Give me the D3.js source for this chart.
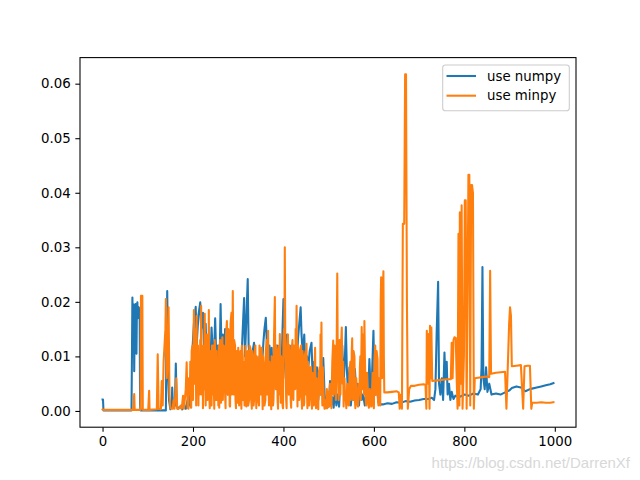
<!DOCTYPE html>
<html><head><meta charset="utf-8">
<script src="https://cdn.jsdelivr.net/npm/d3@7"></script>
<style>body{margin:0;background:#fff}svg{display:block}</style>
</head><body><svg id="c" width="640" height="480"></svg>
<script>
const xTicks=[0,200,400,600,800,1000];
const yTicks=[0,0.01,0.02,0.03,0.04,0.05,0.06];
const seriesNames=["use numpy","use minpy"];
const seriesColors=["#1f77b4","#ff7f0e"];
const watermark="https://blog.csdn.net/DarrenXf";

const numpyData=[
[0,0.0021],[1,0.0021],[2,0.0001],[30,0.0001],[64,0.0001],[65,0.0100],[66,0.0208],[67,0.0150],[68,0.0120],[69,0.0195],[70,0.0073],[71,0.0150],[72,0.0190],[73,0.0196],[74,0.0140],[75,0.0105],[76,0.0190],[77,0.0199],[78,0.0170],[79,0.0185],[80,0.0190],[82,0.0185],[83,0.0010],[84,0.0001],
[140,0.0001],[141,0.0100],[143,0.0220],[144,0.0150],[145,0.0060],[147,0.0020],[150,0.0003],[153,0.0010],[154,0.0043],[156,0.0005],[160,0.0010],[162,0.0087],[164,0.0010],[167,0.0004],[172,0.0008],[176,0.0003],[180,0.0010],[184,0.0004],[188,0.0020],[191,0.0010],[193,0.0043],[195,0.0007],
[198,0.0100],[202,0.0160],[206,0.0191],[208,0.0120],[212,0.0175],[216,0.0199],[218,0.0150],[222,0.0180],[225,0.0100],[228,0.0160],[231,0.0060],[234,0.0140],[237,0.0040],[241,0.0153],[243,0.0120],[246,0.0090],[249,0.0170],[252,0.0080],[255,0.0120],[258,0.0050],[261,0.0196],[263,0.0110],[266,0.0140],[268,0.0060],[271,0.0150],[274,0.0090],[277,0.0030],[280,0.0110],[283,0.0070],[286,0.0120],[289,0.0130],[292,0.0040],[295,0.0100],[298,0.0060],[301,0.0105],[304,0.0030],[307,0.0090],[310,0.0150],[313,0.0207],[315,0.0100],[318,0.0170],[321,0.0242],[323,0.0120],[326,0.0090],[329,0.0050],[332,0.0110],[335,0.0125],[338,0.0040],[341,0.0080],[344,0.0030],[347,0.0100],[350,0.0060],[353,0.0090],[356,0.0130],[358,0.0150],[361,0.0171],[363,0.0130],[366,0.0080],[369,0.0120],[372,0.0050],[374,0.0116],[377,0.0030],[380,0.0090],[383,0.0060],[386,0.0120],[389,0.0030],[392,0.0100],[395,0.0050],[398,0.0150],[400,0.0205],[402,0.0110],[405,0.0060],[408,0.0140],[411,0.0080],[414,0.0120],[417,0.0040],[420,0.0100],[423,0.0060],[426,0.0110],[429,0.0080],[432,0.0130],[435,0.0160],[438,0.0190],[440,0.0140],[443,0.0100],[446,0.0140],[449,0.0060],[452,0.0100],[455,0.0080],[458,0.0110],[462,0.0125],[465,0.0050],[468,0.0090],[471,0.0040],[474,0.0080],[477,0.0020],[480,0.0060],[483,0.0030],[486,0.0080],[488,0.0097],[491,0.0030],
[494,0.0010],[497,0.0030],[500,0.0008],[503,0.0055],[505,0.0010],[508,0.0025],[511,0.0006],[514,0.0040],[517,0.0010],[520,0.0030],[523,0.0008],[526,0.0060],[530,0.0120],[533,0.0050],[536,0.0100],[538,0.0154],[540,0.0080],[543,0.0030],[546,0.0080],[549,0.0010],[552,0.0040],[555,0.0020],[558,0.0077],[561,0.0030],[564,0.0050],[567,0.0010],[570,0.0050],[573,0.0020],[576,0.0030],[580,0.0010],[584,0.0040],[587,0.0015],[590,0.0095],[593,0.0030],[596,0.0070],[599,0.0147],[601,0.0060],[604,0.0030],[607,0.0040],[610,0.0015],[614,0.0012],[620,0.0012],
[630,0.0014],[640,0.0013],[650,0.0016],[660,0.0015],[670,0.0018],[680,0.0017],[690,0.0019],[700,0.0020],[710,0.0022],[720,0.0022],[728,0.0024],[733,0.0020],[736,0.0040],[739,0.0150],[742,0.0237],[744,0.0050],[747,0.0030],[750,0.0060],[753,0.0020],[756,0.0107],[758,0.0060],[761,0.0090],[763,0.0030],[766,0.0050],[769,0.0020],[772,0.0035],[776,0.0022],[780,0.0028],[790,0.0026],[800,0.0030],[810,0.0028],[820,0.0032],[830,0.0030],[836,0.0040],[838,0.0080],[840,0.0264],[842,0.0060],[845,0.0040],[848,0.0080],[851,0.0035],[855,0.0050],[860,0.0030],[870,0.0032],[880,0.0030],[890,0.0034],[900,0.0038],[905,0.0042],[915,0.0045],[925,0.0043],[935,0.0036],[945,0.0040],[960,0.0043],[970,0.0045],[980,0.0047],[990,0.0049],[997,0.0051]
];

const minpyData=[
[0,0.0003],[2,0.0002],[30,0.0002],[60,0.0002],[68,0.0002],[70,0.0031],[71,0.0002],[84,0.0002],[85,0.0211],[88,0.0211],[89,0.0002],[101,0.0002],[103,0.0037],[104,0.0002],[120,0.0003],[122,0.0104],[124,0.0004],[129,0.0003],[131,0.0055],[133,0.0010],[135,0.0090],[137,0.0120],[139,0.0150],[140,0.0205],[142,0.0060],[144,0.0100],[146,0.0190],[148,0.0030],[150,0.0005],[155,0.0004],[157,0.0020],[159,0.0004],[161,0.0030],[163,0.0060],[165,0.0004],[170,0.0005],[173,0.0010],[175,0.0004],[178,0.0028],[180,0.0004],[184,0.0040],[186,0.0089],[188,0.0006],
[190,0.0004],[191,0.0060],[193,0.0030],[194,0.0090],[196,0.0006],[197,0.0110],[199,0.0120],[200,0.0020],[202,0.0185],[203,0.0050],[205,0.0140],[206,0.0150],[207,0.0010],[208,0.0174],[209,0.0040],[211,0.0120],[212,0.0010],[213,0.0100],[215,0.0030],[216,0.0130],[217,0.0060],[218,0.0193],[219,0.0030],[221,0.0110],[222,0.0005],[223,0.0120],[224,0.0040],[226,0.0178],[227,0.0060],[228,0.0010],[229,0.0140],[231,0.0090],[232,0.0020],[233,0.0140],[234,0.0060],[235,0.0185],[236,0.0030],[237,0.0005],[238,0.0110],[240,0.0080],[241,0.0010],[242,0.0120],[243,0.0030],[245,0.0120],[246,0.0050],[247,0.0004],[248,0.0130],[250,0.0100],[251,0.0020],[252,0.0110],[253,0.0020],[255,0.0090],[256,0.0010],[257,0.0120],[258,0.0006],[260,0.0130],[261,0.0040],[262,0.0015],[263,0.0110],[265,0.0135],[266,0.0020],[267,0.0060],[268,0.0120],[270,0.0100],[271,0.0030],[272,0.0005],[273,0.0140],[275,0.0165],[276,0.0040],[277,0.0030],[278,0.0150],[280,0.0140],[281,0.0010],[282,0.0008],[283,0.0160],[285,0.0180],[286,0.0030],[287,0.0120],[288,0.0220],[289,0.0100],[290,0.0030],[291,0.0130],[293,0.0120],[294,0.0020],[295,0.0005],[296,0.0110],[298,0.0080],[299,0.0015],[300,0.0116],[301,0.0040],[302,0.0010],[303,0.0100],[305,0.0110],[306,0.0030],[307,0.0004],[308,0.0120],[310,0.0100],[311,0.0020],[312,0.0090],[313,0.0060],[314,0.0010],[316,0.0119],[317,0.0030],[318,0.0008],[319,0.0100],[321,0.0110],[322,0.0010],[324,0.0020],[325,0.0120],[327,0.0115],[328,0.0030],[330,0.0004],[331,0.0110],[333,0.0100],[334,0.0010],[336,0.0030],[337,0.0110],[338,0.0120],[339,0.0040],[340,0.0005],[341,0.0100],[343,0.0090],[344,0.0020],[346,0.0010],[347,0.0120],[349,0.0105],[350,0.0030],[352,0.0116],[353,0.0050],[354,0.0003],[355,0.0100],[357,0.0080],[358,0.0010],[360,0.0020],[361,0.0110],[363,0.0130],[364,0.0030],[366,0.0147],[367,0.0060],[368,0.0010],[369,0.0090],[371,0.0060],[372,0.0020],[373,0.0003],[374,0.0100],[376,0.0090],[377,0.0010],[378,0.0020],[379,0.0130],[381,0.0209],[382,0.0080],[383,0.0040],[384,0.0120],[386,0.0100],[387,0.0020],[388,0.0004],[389,0.0110],[390,0.0120],[391,0.0030],[392,0.0141],[393,0.0060],[394,0.0015],[395,0.0100],[397,0.0060],[398,0.0010],[399,0.0005],[400,0.0120],[401,0.0150],[402,0.0100],[403,0.0300],[404,0.0120],[405,0.0080],[406,0.0020],[407,0.0005],[408,0.0110],[410,0.0140],[411,0.0040],[412,0.0030],[413,0.0120],[415,0.0090],[416,0.0020],[417,0.0006],[418,0.0110],[420,0.0130],[421,0.0030],[422,0.0020],[423,0.0120],[425,0.0100],[426,0.0040],[427,0.0150],[428,0.0080],[429,0.0193],[430,0.0100],[431,0.0008],[432,0.0120],[434,0.0110],[435,0.0020],[436,0.0030],[437,0.0100],[439,0.0120],[440,0.0030],[441,0.0004],[442,0.0110],[444,0.0090],[445,0.0010],[446,0.0015],[447,0.0100],[449,0.0110],[450,0.0030],[451,0.0123],[452,0.0040],[453,0.0005],[454,0.0090],[456,0.0070],[457,0.0010],[459,0.0080],[461,0.0080],[462,0.0020],[463,0.0004],[464,0.0070],[466,0.0060],[467,0.0010],[468,0.0020],[469,0.0090],[470,0.0116],[471,0.0030],[472,0.0005],[473,0.0060],[475,0.0040],[476,0.0010],[477,0.0003],[478,0.0070],[480,0.0080],[481,0.0030],[482,0.0140],[483,0.0060],[484,0.0162],[485,0.0050],[486,0.0010],[487,0.0080],[489,0.0030],[490,0.0010],
[491,0.0004],[493,0.0020],[494,0.0005],[496,0.0040],[497,0.0005],[499,0.0030],[500,0.0035],[501,0.0008],[503,0.0050],[505,0.0030],[506,0.0005],[508,0.0090],[510,0.0129],[511,0.0030],[512,0.0040],[513,0.0120],[515,0.0110],[516,0.0020],[517,0.0060],[518,0.0150],[519,0.0252],[520,0.0100],[521,0.0080],[522,0.0020],[523,0.0120],[524,0.0130],[525,0.0040],[526,0.0030],[527,0.0110],[529,0.0153],[530,0.0060],[531,0.0050],[532,0.0090],[533,0.0008],[535,0.0060],[536,0.0030],[538,0.0020],[539,0.0005],[541,0.0050],[542,0.0040],[544,0.0010],[545,0.0010],[546,0.0070],[548,0.0090],[549,0.0020],[550,0.0040],[551,0.0110],[552,0.0133],[553,0.0050],[554,0.0020],[555,0.0110],[557,0.0100],[558,0.0020],[559,0.0005],[561,0.0060],[562,0.0040],[564,0.0010],[565,0.0008],[567,0.0050],[568,0.0030],[569,0.0080],[570,0.0100],[571,0.0020],[573,0.0154],[574,0.0080],[575,0.0040],[576,0.0140],[577,0.0120],[578,0.0030],[579,0.0165],[580,0.0100],[581,0.0060],[582,0.0020],[583,0.0010],[585,0.0070],[586,0.0050],[588,0.0010],[589,0.0006],[591,0.0040],[592,0.0030],[594,0.0008],[595,0.0010],[597,0.0070],[598,0.0060],[599,0.0010],[600,0.0005],[601,0.0090],[603,0.0120],[604,0.0030],[605,0.0030],[606,0.0110],[608,0.0095],[609,0.0020],[610,0.0010],[611,0.0060],[613,0.0040],[614,0.0010],[615,0.0200],[616,0.0245],[617,0.0100],[618,0.0060],[619,0.0200],[621,0.0256],[622,0.0100],[623,0.0034],
[630,0.0034],[640,0.0035],[650,0.0036],[655,0.0034],[657,0.0004],[660,0.0030],[662,0.0004],[664,0.0343],[667,0.0343],[669,0.0617],[671,0.0617],[673,0.0200],[675,0.0004],[678,0.0040],[682,0.0046],[690,0.0046],[700,0.0048],[710,0.0049],[714,0.0048],[716,0.0004],[717,0.0147],[719,0.0050],[721,0.0141],[723,0.0004],[724,0.0156],[726,0.0060],[727,0.0153],[729,0.0055],[740,0.0056],[750,0.0057],[760,0.0058],[770,0.0058],[772,0.0125],[774,0.0060],[776,0.0130],[778,0.0135],[781,0.0134],[783,0.0060],[785,0.0004],[787,0.0325],[789,0.0010],[790,0.0364],[792,0.0050],[794,0.0377],[796,0.0004],[799,0.0100],[801,0.0386],[803,0.0386],[805,0.0004],[807,0.0200],[809,0.0433],[811,0.0433],[813,0.0010],[815,0.0414],[817,0.0414],[819,0.0400],[821,0.0004],[823,0.0060],[830,0.0061],[840,0.0062],[850,0.0063],[855,0.0062],[857,0.0257],[859,0.0068],[870,0.0070],[880,0.0071],[890,0.0072],[893,0.0004],[896,0.0080],[899,0.0160],[901,0.0190],[903,0.0175],[905,0.0082],[915,0.0083],[925,0.0084],[930,0.0004],[933,0.0082],[940,0.0083],[945,0.0083],[948,0.0004],[950,0.0015],[960,0.0015],[970,0.0016],[980,0.0015],[990,0.0015],[997,0.0016]
];

const L=80,R=576,T=57.6,B=427.2;
const svg=d3.select("#c");
const all=numpyData.concat(minpyData);
const xe=d3.extent(all,d=>d[0]), ye=d3.extent(all,d=>d[1]);
const xp=(xe[1]-xe[0])*0.05, yp=(ye[1]-ye[0])*0.05;
const x=d3.scaleLinear().domain([xe[0]-xp,xe[1]+xp]).range([L,R]);
const y=d3.scaleLinear().domain([ye[0]-yp,ye[1]+yp]).range([B,T]);

svg.append("rect").attr("width",640).attr("height",480).attr("fill","#fff");
svg.append("defs").append("clipPath").attr("id","clip").append("rect")
  .attr("x",L).attr("y",T).attr("width",R-L).attr("height",B-T);

const line=d3.line().x(d=>x(d[0])).y(d=>y(d[1]));
const g=svg.append("g").attr("clip-path","url(#clip)");
[numpyData,minpyData].forEach((s,i)=>{
  g.append("path").datum(s).attr("d",line).attr("fill","none")
   .attr("stroke",seriesColors[i]).attr("stroke-width",2.08)
   .attr("stroke-linejoin","round").attr("stroke-linecap","square");
});

const font="'DejaVu Sans', sans-serif";
const xa=svg.append("g").attr("transform",`translate(0,${B})`)
  .call(d3.axisBottom(x).tickValues(xTicks).tickFormat(d3.format("d")).tickSize(4.67).tickPadding(4.67));
const ya=svg.append("g").attr("transform",`translate(${L},0)`)
  .call(d3.axisLeft(y).tickValues(yTicks).tickFormat(d3.format(".2f")).tickSize(4.67).tickPadding(4.67));
[xa,ya].forEach(a=>{
  a.select(".domain").remove();
  a.selectAll("line").attr("stroke","#000").attr("stroke-width",1.07);
  a.selectAll("text").attr("fill","#000").style("font-family",font).style("font-size","13.33px");
});

svg.append("rect").attr("x",L).attr("y",T).attr("width",R-L).attr("height",B-T)
  .attr("fill","none").attr("stroke","#000").attr("stroke-width",1.07);

// legend
const lg=svg.append("g");
lg.append("rect").attr("x",442.7).attr("y",65).attr("width",126.6).attr("height",45.7)
  .attr("rx",2.8).attr("fill","#fff").attr("fill-opacity",0.8)
  .attr("stroke","#cccccc").attr("stroke-width",1.07);
seriesNames.forEach((n,i)=>{
  const cy=76+i*19.7;
  lg.append("line").attr("x1",446.5).attr("x2",476).attr("y1",cy).attr("y2",cy)
    .attr("stroke",seriesColors[i]).attr("stroke-width",2.08);
  lg.append("text").attr("x",487).attr("y",cy+4.7).text(n)
    .style("font-family",font).style("font-size","13.33px").attr("fill","#000");
});

svg.append("text").attr("x",630).attr("y",468).attr("text-anchor","end")
  .style("font-family","'Liberation Sans', Arial, sans-serif").style("font-size","15px")
  .attr("fill","#d8d8d8").text(watermark);
</script></body></html>
